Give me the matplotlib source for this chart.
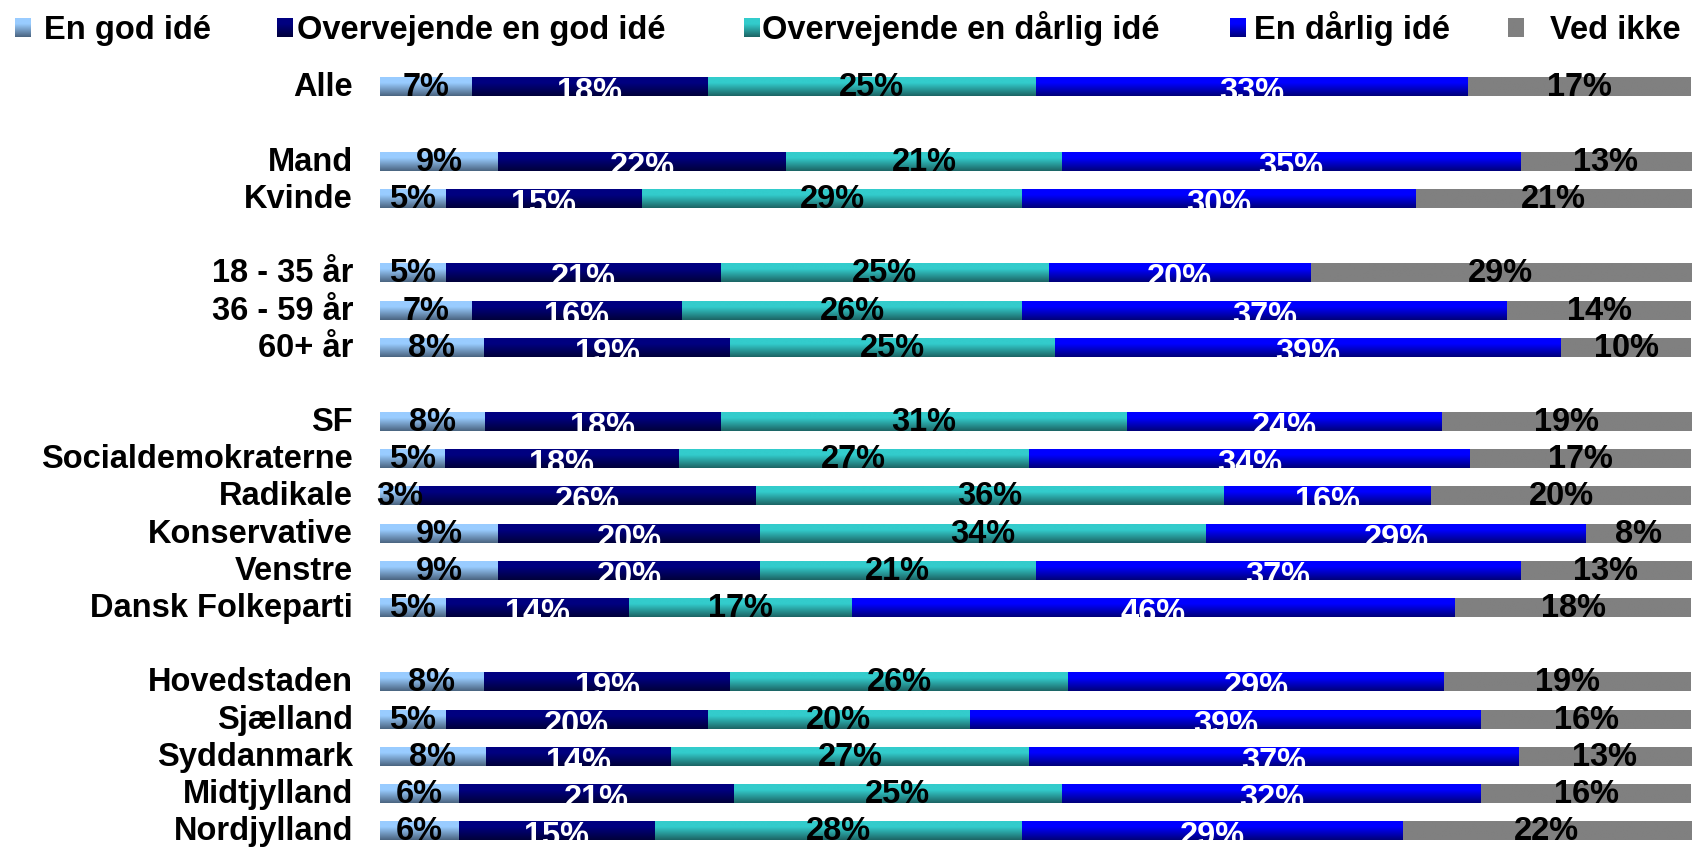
import numpy as np
import matplotlib
matplotlib.use("Agg")
import matplotlib.pyplot as plt

# ================================
# 1. DATA
# ================================
groups = [
    ["Alle"],
    ["Mand", "Kvinde"],
    ["18 - 35 år", "36 - 59 år", "60+ år"],
    ["SF", "Socialdemokraterne", "Radikale", "Konservative", "Venstre", "Dansk Folkeparti"],
    ["Hovedstaden", "Sjælland", "Syddanmark", "Midtjylland", "Nordjylland"],
]

series_names = ["En god idé", "Overvejende en god idé", "Overvejende en dårlig idé",
                "En dårlig idé", "Ved ikke"]

god = [7, 9, 5, 5, 7, 8, 8, 5, 3, 9, 9, 5, 8, 5, 8, 6, 6]
overv_god = [18, 22, 15, 21, 16, 19, 18, 18, 26, 20, 20, 14, 19, 20, 14, 21, 15]
overv_darlig = [25, 21, 29, 25, 26, 25, 31, 27, 36, 34, 21, 17, 26, 20, 27, 25, 28]
darlig = [33, 35, 30, 20, 37, 39, 24, 34, 16, 29, 37, 46, 29, 39, 37, 32, 29]
ved_ikke = [17, 13, 21, 29, 14, 10, 19, 17, 20, 8, 13, 18, 19, 16, 13, 16, 22]

# ================================
# 2. STYLE
# ================================
top_cols = ["#99CCFF", "#000080", "#33CCCC", "#0000FF", "#808080"]
bot_cols = ["#4A6480", "#00003A", "#1C6464", "#00007A", "#808080"]
txt_cols = ["black", "white", "black", "white", "black"]
FONT = "Liberation Sans"
FS = 23.5

plt.rcParams["font.family"] = [FONT, "DejaVu Sans"]


def gradient(top, bot, n=60):
    t = np.linspace(0, 1, n)
    w = np.clip((t - 0.3) / 0.7, 0, 1)[:, None]
    a = np.array(matplotlib.colors.to_rgb(top))
    b = np.array(matplotlib.colors.to_rgb(bot))
    return (a * (1 - w) + b * w)[:, None, :]


# row positions with a blank slot between groups
labels, ypos = [], []
slot = 0
for g in groups:
    for name in g:
        labels.append(name)
        ypos.append(slot)
        slot += 1
    slot += 1
last = ypos[-1]

data = np.array([god, overv_god, overv_darlig, darlig, ved_ikke], dtype=float)
shares = data / data.sum(axis=0) * 100
starts = np.vstack([np.zeros(data.shape[1]), np.cumsum(shares, axis=0)[:-1]])

# ================================
# 3. FIGURE
# ================================
W, H = 1693, 850
fig = plt.figure(figsize=(W / 100, H / 100), dpi=100)
ax = fig.add_axes([380 / W, 0.0005, 1311 / W, 0.919])
ax.set_axis_off()

bh = 0.5
for s in range(5):
    for i, y in enumerate(ypos):
        x0 = starts[s, i]
        x1 = x0 + shares[s, i]
        ax.imshow(gradient(top_cols[s], bot_cols[s]), extent=(x0, x1, y + bh / 2, y - bh / 2),
                  aspect="auto", interpolation="bilinear", origin="upper", zorder=1)
        off = -5 if txt_cols[s] == "white" else 0
        ax.annotate(f"{data[s, i]:.0f}%", ((x0 + x1) / 2, y + bh / 2), xytext=(0, off),
                    textcoords="offset pixels", ha="center", va="baseline",
                    fontsize=FS, fontweight="bold", color=txt_cols[s], zorder=3)

for name, y in zip(labels, ypos):
    ax.annotate(name, (0, y + bh / 2), xytext=(-27, 0), textcoords="offset pixels",
                ha="right", va="baseline", fontsize=FS, fontweight="bold",
                color="black", annotation_clip=False)

ax.set_xlim(0, 100)
ax.set_ylim(last + 0.5, -0.5)

# ================================
# 4. LEGEND (drawn in pixel coords)
# ================================
lay = fig.add_axes([0, 0, 1, 1], zorder=5)
lay.set_axis_off()
lay.patch.set_alpha(0)

sq_x = [15, 277, 744, 1230, 1508]
tx_x = [44, 297, 762, 1254, 1550]
for s in range(5):
    lay.imshow(gradient(top_cols[s], bot_cols[s]), extent=(sq_x[s], sq_x[s] + 16, 37, 18),
               aspect="auto", interpolation="bilinear", origin="upper")
    lay.text(tx_x[s], 39, series_names[s], ha="left", va="baseline",
             fontsize=FS, fontweight="bold", color="black")
lay.set_xlim(0, W)
lay.set_ylim(H, 0)

fig.savefig("out.png", dpi=100, facecolor="white")
